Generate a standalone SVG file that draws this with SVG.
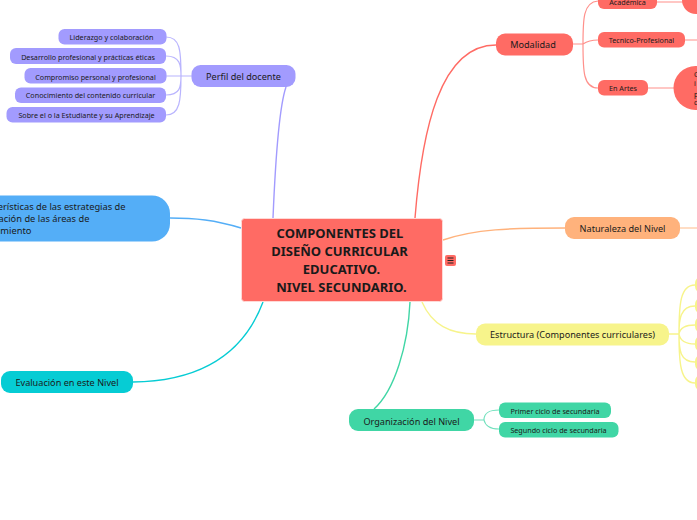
<svg xmlns="http://www.w3.org/2000/svg" width="697" height="520" viewBox="0 0 697 520">
<style>
text{font-family:"Noto Sans","Open Sans",sans-serif;fill:#1a1a1a}
.m{font-size:9.15px}
.s{font-size:7.2px}
.c{fill:none;stroke-width:1.4}
.t{fill:none;stroke-width:1.2;stroke-opacity:.75}
</style>
<rect width="697" height="520" fill="#fff"/>
<g id="connectors">
<path class="c" stroke="#a29bfe" d="M273 218C275 170 278 110 286 87"/>
<path class="t" stroke="#a29bfe" d="M192 76H181M181 76C181 50 180 37 166 37M181 76C181 65 180 56 166 56M181 76H166M181 76C181 87 180 95 166 95M181 76C181 100 180 115 166 115"/>
<path class="c" stroke="#54aef7" d="M241 228C215 220 195 218 170 218"/>
<path class="c" stroke="#ff6b64" d="M415 218C422 130 440 45 496 45"/>
<path class="t" stroke="#ff6b64" d="M573 44H583M583 44C583 20 583 2 598 1M583 44C586 42 590 40 598 40M583 44C583 70 583 88 598 88M657 2H683M685 40H697M648 88H674"/>
<path class="c" stroke="#ffb27c" d="M443 240C475 229 510 228 565 228"/>
<path class="t" stroke="#ffb27c" d="M680 228H697"/>
<path class="c" stroke="#f7f48b" d="M422 302C432 325 450 334 476 334"/>
<path class="c" stroke="#f7f48b" d="M669 334H679M679 334C679 305 680 285 695 285M679 334C679 320 680 306 695 306M679 334C680 328 685 325 695 325M679 334C680 340 685 344 695 344M679 334C679 350 680 362 695 362M679 334C679 362 680 383 695 383"/>
<path class="c" stroke="#40d6a5" d="M410 302C408 345 395 390 374 409"/>
<path class="t" stroke="#40d6a5" d="M474 420H484M484 420C484 412 490 410 499 410M484 420C485 425 490 429 499 429"/>
<path class="c" stroke="#06ccd4" d="M263 302C245 350 205 381 133 382"/>
</g>
<g id="root"><rect x="241.500" y="218.500" width="201" height="83" rx="3" fill="#ff6b64" stroke="#ffd9d6"/>
<g style="font-size:13px;font-weight:700;text-anchor:middle"><text x="340" y="238">COMPONENTES DEL</text><text x="339.500" y="256">DISEÑO CURRICULAR</text><text x="341.500" y="274">EDUCATIVO.</text><text x="341.500" y="292">NIVEL SECUNDARIO.</text></g></g>
<g id="notes"><rect x="445" y="255" width="11" height="11" rx="2" fill="#ff6b64"/><path d="M447.500 258H453.500M447.500 260.500H453.500M447.500 263H453.500" stroke="#222" stroke-width="1"/></g>
<g id="perfil"><rect x="191.500" y="65" width="104" height="22" rx="9" fill="#a29bfe"/><text class="m" x="243.500" y="79.500" text-anchor="middle">Perfil del docente</text></g>
<g id="p1"><rect x="58.500" y="29" width="108" height="15.500" rx="6" fill="#a29bfe"/><text class="s" x="111.500" y="40" text-anchor="middle">Liderazgo y colaboración</text></g>
<g id="p2"><rect x="10" y="48" width="156" height="16" rx="6" fill="#a29bfe"/><text class="s" x="88" y="59.500" text-anchor="middle">Desarrollo profesional y prácticas éticas</text></g>
<g id="p3"><rect x="24.500" y="68" width="142" height="15.500" rx="6" fill="#a29bfe"/><text class="s" x="95.500" y="79.500" text-anchor="middle">Compromiso personal y profesional</text></g>
<g id="p4"><rect x="15" y="87.500" width="151" height="15.500" rx="6" fill="#a29bfe"/><text class="s" x="90.500" y="98" text-anchor="middle">Conocimiento del contenido curricular</text></g>
<g id="p5"><rect x="6.500" y="107" width="159.500" height="15.500" rx="6" fill="#a29bfe"/><text class="s" x="86.500" y="118" text-anchor="middle">Sobre el o la Estudiante y su Aprendizaje</text></g>
<g id="caracteristicas"><rect x="-60" y="195.500" width="230" height="46" rx="18" fill="#54aef7"/><g style="font-size:9.3px"><text x="-30" y="210">Características de las estrategias de</text><text x="-33" y="222">planificación de las áreas de</text><text x="-28" y="234">conocimiento</text></g></g>
<g id="modalidad"><rect x="496" y="33.500" width="77" height="22" rx="9" fill="#ff6b64"/><text class="m" x="533" y="48" text-anchor="middle">Modalidad</text></g>
<g id="academica"><rect x="598" y="-7" width="59" height="16" rx="6" fill="#ff6b64"/><text class="s" x="627.500" y="4.500" text-anchor="middle">Académica</text></g>
<g id="tecnico"><rect x="598" y="32" width="87" height="15.500" rx="6" fill="#ff6b64"/><text class="s" x="641.500" y="43" text-anchor="middle">Tecnico-Profesional</text></g>
<g id="artes"><rect x="598" y="80" width="50" height="15.500" rx="6" fill="#ff6b64"/><text class="s" x="623" y="91" text-anchor="middle">En Artes</text></g>
<g id="academica-d"><rect x="682" y="-20" width="60" height="34" rx="14" fill="#ff6b64"/></g>
<g id="artes-d"><rect x="673.500" y="66" width="70" height="44" rx="22" fill="#ff6b64"/><g class="s"><text x="694" y="77">C</text><text x="694" y="86">i</text><text x="694" y="97">p</text><text x="694" y="105">c</text></g></g>
<g id="naturaleza"><rect x="565" y="217" width="115" height="22" rx="9" fill="#ffb27c"/><text class="m" x="622.500" y="232" text-anchor="middle">Naturaleza del Nivel</text></g>
<g id="estructura"><rect x="476" y="323.500" width="193" height="22" rx="9" fill="#f7f48b"/><text class="m" x="572.500" y="338" text-anchor="middle">Estructura (Componentes curriculares)</text></g>
<g id="e-children" fill="#f7f48b"><rect x="695" y="277" width="20" height="15.500" rx="6"/><rect x="695" y="298" width="20" height="15.500" rx="6"/><rect x="695" y="317" width="20" height="15.500" rx="6"/><rect x="695" y="336" width="20" height="15.500" rx="6"/><rect x="695" y="355" width="20" height="15.500" rx="6"/><rect x="695" y="375" width="20" height="15.500" rx="6"/></g>
<g id="organizacion"><rect x="349" y="409" width="125" height="22" rx="9" fill="#40d6a5"/><text class="m" x="411.500" y="424.500" text-anchor="middle">Organización del Nivel</text></g>
<g id="o1"><rect x="499" y="402.500" width="112" height="15.500" rx="6" fill="#40d6a5"/><text class="s" x="555" y="413.500" text-anchor="middle">Primer ciclo de secundaria</text></g>
<g id="o2"><rect x="499" y="422" width="119.500" height="15.500" rx="6" fill="#40d6a5"/><text class="s" x="558.500" y="433" text-anchor="middle">Segundo ciclo de secundaria</text></g>
<g id="evaluacion"><rect x="1" y="371" width="132" height="22" rx="9" fill="#06ccd4"/><text class="m" x="67" y="386" text-anchor="middle">Evaluación en este Nivel</text></g>
</svg>
